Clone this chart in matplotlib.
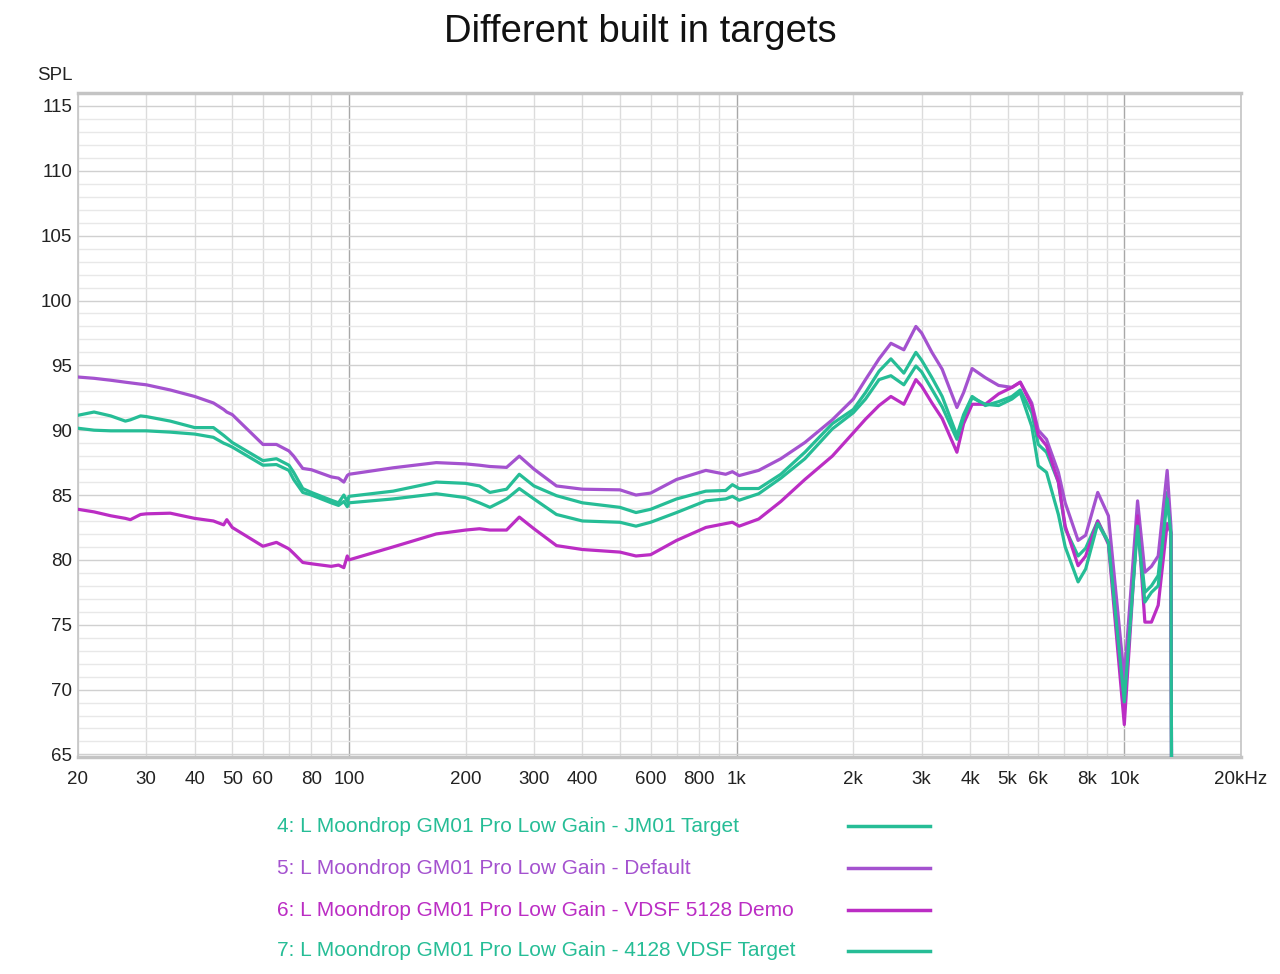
import matplotlib
matplotlib.use("Agg")
import matplotlib.pyplot as plt
from matplotlib.lines import Line2D
from matplotlib.ticker import FixedLocator, NullFormatter, FixedFormatter

plt.rcParams['font.family'] = ['Liberation Sans', 'DejaVu Sans']

freq = [20, 22, 24.3, 26.5, 27.3, 29, 30, 34.6, 40, 44.7, 47.5, 48.4, 50, 60, 65, 70, 72, 76, 80,
        90, 94, 97, 99, 100, 130, 168, 200, 217, 231, 255, 275, 300, 343, 400, 500, 550, 600,
        700, 833, 937, 975, 1015, 1140, 1300, 1500, 1765, 2000, 2150, 2330, 2500, 2700, 2900, 3000,
        3190, 3390, 3700, 3850, 4050, 4380, 4740, 5130, 5390, 5770, 6000, 6300, 6760, 7040,
        7600, 7950, 8540, 9100, 10000, 10820, 11300, 11750, 12230, 12900, 13190, 13260]

spl_jm01 = [91.15, 91.4, 91.1, 90.7, 90.8, 91.1, 91.05, 90.7, 90.2, 90.2, 89.6, 89.4, 89.05, 87.65,
            87.8, 87.3, 86.75, 85.5, 85.2, 84.6, 84.4, 85.0, 84.5, 84.9, 85.3, 86.0, 85.9, 85.7,
            85.2, 85.45, 86.6, 85.7, 84.95, 84.4, 84.05, 83.65, 83.9, 84.7, 85.3, 85.35, 85.8,
            85.5, 85.5, 86.6, 88.3, 90.5, 91.6, 92.9, 94.55, 95.5, 94.4, 96.0, 95.4, 94.05, 92.6, 89.6,
            91.2, 92.6, 91.9, 92.2, 92.6, 93.1, 91.35, 88.9, 88.3, 86.0, 82.4, 80.3, 80.9, 83.0,
            81.35, 69.8, 82.8, 77.5, 78.0, 78.8, 85.2, 82.1, 55.0]

spl_default = [94.1, 94.0, 93.85, 93.7, 93.65, 93.55, 93.5, 93.1, 92.6, 92.1, 91.6, 91.4, 91.2, 88.9,
               88.9, 88.4, 88.0, 87.05, 86.95, 86.4, 86.3, 86.0, 86.5, 86.6, 87.1, 87.5, 87.4, 87.3,
               87.2, 87.13, 88.0, 87.0, 85.7, 85.45, 85.4, 85.0, 85.15, 86.2, 86.9, 86.6, 86.8,
               86.5, 86.9, 87.8, 89.05, 90.8, 92.4, 93.9, 95.5, 96.7, 96.2, 98.0, 97.5, 96.0, 94.7, 91.75,
               92.9, 94.75, 94.05, 93.45, 93.3, 93.7, 92.1, 90.0, 89.3, 86.75, 84.4, 81.5, 81.9,
               85.2, 83.4, 70.85, 84.55, 79.05, 79.5, 80.3, 86.9, 82.6, 55.0]

spl_vdsf5128 = [83.9, 83.7, 83.4, 83.2, 83.1, 83.5, 83.55, 83.6, 83.2, 83.0, 82.7, 83.1, 82.5, 81.05,
                81.35, 80.85, 80.5, 79.8, 79.7, 79.5, 79.6, 79.4, 80.3, 80.0, 81.0, 82.0, 82.3, 82.4,
                82.3, 82.3, 83.3, 82.4, 81.1, 80.8, 80.6, 80.3, 80.4, 81.5, 82.5, 82.8, 82.9, 82.6,
                83.15, 84.5, 86.2, 88.0, 89.8, 90.85, 91.9, 92.6, 92.0, 93.9, 93.4, 92.1, 90.9, 88.3, 90.5,
                92.0, 92.0, 92.8, 93.3, 93.7, 91.9, 89.6, 88.8, 86.0, 82.6, 79.55, 80.3, 83.0, 81.2,
                67.3, 83.4, 75.2, 75.2, 76.5, 82.8, 82.1, 55.0]

spl_4128 = [90.15, 90.0, 89.95, 89.95, 89.95, 89.95, 89.95, 89.85, 89.7, 89.45, 89.0, 88.9, 88.7, 87.3,
            87.35, 86.9, 86.2, 85.2, 85.0, 84.4, 84.2, 84.5, 84.1, 84.4, 84.7, 85.1, 84.8, 84.4,
            84.05, 84.7, 85.5, 84.7, 83.5, 83.0, 82.9, 82.6, 82.9, 83.65, 84.55, 84.7, 84.9, 84.6,
            85.1, 86.3, 87.8, 90.1, 91.35, 92.4, 93.9, 94.2, 93.5, 94.95, 94.5, 93.15, 91.8, 89.3, 91.0,
            92.5, 92.0, 91.9, 92.4, 92.9, 90.3, 87.25, 86.75, 83.5, 81.0, 78.3, 79.3, 82.8, 81.35,
            69.05, 82.6, 76.75, 77.5, 78.0, 84.7, 82.0, 55.0]

labels = ["4: L Moondrop GM01 Pro Low Gain - JM01 Target",
          "5: L Moondrop GM01 Pro Low Gain - Default",
          "6: L Moondrop GM01 Pro Low Gain - VDSF 5128 Demo",
          "7: L Moondrop GM01 Pro Low Gain - 4128 VDSF Target"]
colors = ['#26bd96', '#a452cf', '#bb2dc4', '#26bd96']
series = [spl_jm01, spl_default, spl_vdsf5128, spl_4128]

xtick_vals = [20, 30, 40, 50, 60, 80, 100, 200, 300, 400, 600, 800, 1000, 2000, 3000, 4000,
              5000, 6000, 8000, 10000, 20000]
xtick_labels = ["20", "30", "40", "50", "60", "80", "100", "200", "300", "400", "600", "800",
                "1k", "2k", "3k", "4k", "5k", "6k", "8k", "10k", "20kHz"]
ytick_vals = [65, 70, 75, 80, 85, 90, 95, 100, 105, 110, 115]

fig = plt.figure(figsize=(12.8, 9.74), dpi=100)
ax = fig.add_axes([78/1280, 1-757/974, (1241-78)/1280, (757-93)/974])
ax.set_xscale('log')
ax.set_xlim(20, 20000)
ax.set_ylim(64.8, 116.0)

# grid
minor_x = [f * d for d in (10, 100, 1000) for f in range(2, 10)]
minor_x = sorted(set([v for v in minor_x if 20 <= v <= 20000] + [20000]))
for v in minor_x:
    ax.axvline(v, color='#dcdcdc', lw=1.0, zorder=0)
for v in (100, 1000, 10000):
    ax.axvline(v, color='#a8a8a8', lw=1.0, zorder=0)
for v in range(65, 117):
    ax.axhline(v, color='#d0d0d0' if v % 5 == 0 else '#e8e8e8', lw=1.0, zorder=0)

lines = []
for s, c, lab in zip(series, colors, labels):
    ln, = ax.plot(freq, s, color=c, lw=2.3, label=lab, zorder=3, solid_joinstyle='round')
    lines.append(ln)

ax.xaxis.set_major_locator(FixedLocator(xtick_vals))
ax.xaxis.set_major_formatter(FixedFormatter(xtick_labels))
ax.xaxis.set_minor_locator(FixedLocator([]))
ax.xaxis.set_minor_formatter(NullFormatter())
ax.set_yticks(ytick_vals)
ax.set_yticklabels([str(v) for v in ytick_vals])
ax.tick_params(axis='both', length=0, labelsize=13.5, colors='#222222')
ax.tick_params(axis='x', pad=10)
ax.tick_params(axis='y', pad=4)

for sp in ax.spines.values():
    sp.set_color('#c4c4c4')
    sp.set_linewidth(1.2)
ax.spines['top'].set_linewidth(2.5)
ax.spines['bottom'].set_linewidth(2.5)

fig.text(0.5, 1-32/974, "Different built in targets", ha='center', va='center', fontsize=27.5,
         color='#111111')
fig.text(37/1280, 1-75/974, "SPL", ha='left', va='center', fontsize=13.5, color='#222222')

# legend: labels on the left, line samples on the right
leg_y = [826, 868, 910, 951]
for ln, lab, y in zip(lines, labels, leg_y):
    fig.text(277/1280, 1-y/974, lab, ha='left', va='center', fontsize=15, color=ln.get_color())
    fig.add_artist(Line2D([848/1280, 930/1280], [1-y/974, 1-y/974], color=ln.get_color(),
                          lw=2.5, transform=fig.transFigure))

fig.savefig("out.png", dpi=100)
